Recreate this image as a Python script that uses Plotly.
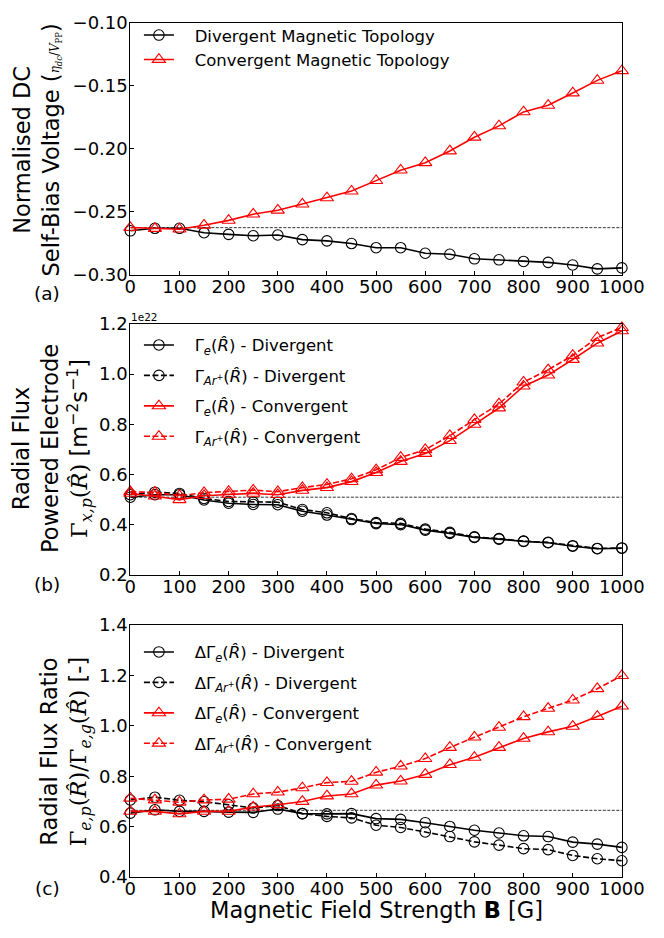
import plotly.graph_objects as go
from plotly.subplots import make_subplots

B = [0, 50, 100, 150, 200, 250, 300, 350, 400, 450, 500, 550, 600, 650, 700, 750, 800, 850, 900, 950, 1000]

# Panel (a): normalised DC self-bias voltage
vdc_div = [-0.265, -0.263, -0.263, -0.2665, -0.2678, -0.2689, -0.2683, -0.2720, -0.2730, -0.2751,
           -0.2784, -0.2784, -0.2828, -0.2836, -0.2872, -0.2880, -0.2893, -0.2900, -0.2921, -0.2952, -0.2944]
vdc_conv = [-0.2624, -0.2632, -0.2637, -0.2606, -0.2567, -0.2518, -0.2487, -0.2438, -0.2389, -0.2335,
            -0.2252, -0.2169, -0.2110, -0.2017, -0.1908, -0.1818, -0.1707, -0.1655, -0.1557, -0.1457, -0.1381]
vdc_ref = -0.2625

# Panel (b): radial flux at powered electrode (units of 1e22)
ge_div = [0.510, 0.520, 0.520, 0.499, 0.486, 0.481, 0.480, 0.454, 0.439, 0.421, 0.405,
          0.401, 0.379, 0.366, 0.350, 0.343, 0.334, 0.329, 0.315, 0.305, 0.307]
gar_div = [0.520, 0.530, 0.525, 0.505, 0.493, 0.490, 0.490, 0.461, 0.448, 0.425, 0.409,
           0.406, 0.383, 0.370, 0.352, 0.345, 0.335, 0.330, 0.317, 0.306, 0.308]
ge_conv = [0.525, 0.514, 0.500, 0.516, 0.521, 0.525, 0.520, 0.537, 0.548, 0.572, 0.608,
           0.652, 0.684, 0.735, 0.800, 0.865, 0.952, 0.996, 1.058, 1.123, 1.172]
gar_conv = [0.532, 0.529, 0.516, 0.528, 0.533, 0.538, 0.532, 0.548, 0.561, 0.583, 0.619,
            0.668, 0.699, 0.755, 0.819, 0.881, 0.968, 1.017, 1.074, 1.145, 1.185]
flux_ref = 0.510

# Panel (c): radial flux ratio
re_div = [0.654, 0.667, 0.661, 0.661, 0.658, 0.657, 0.670, 0.652, 0.651, 0.652, 0.632,
          0.629, 0.616, 0.601, 0.586, 0.575, 0.564, 0.561, 0.539, 0.531, 0.518]
rar_div = [0.706, 0.717, 0.705, 0.699, 0.687, 0.674, 0.684, 0.652, 0.641, 0.635, 0.606,
           0.597, 0.579, 0.561, 0.540, 0.527, 0.513, 0.509, 0.486, 0.473, 0.465]
re_conv = [0.661, 0.661, 0.651, 0.661, 0.661, 0.678, 0.687, 0.700, 0.722, 0.730, 0.765,
           0.781, 0.807, 0.846, 0.875, 0.914, 0.950, 0.976, 0.998, 1.037, 1.078]
rar_conv = [0.713, 0.706, 0.697, 0.706, 0.709, 0.730, 0.737, 0.754, 0.775, 0.780, 0.816,
            0.840, 0.870, 0.914, 0.955, 0.994, 1.036, 1.069, 1.102, 1.147, 1.199]
ratio_ref = 0.665

x_ticks = [0, 100, 200, 300, 400, 500, 600, 700, 800, 900, 1000]

W, H = 664, 938
FONT = "DejaVu Sans"
SERIF = "DejaVu Serif"
BLACK = "#000000"
RED = "#ff0000"
SP = "\u00a0\u00a0\u00a0"

fig = make_subplots(rows=3, cols=1)

def add(row, y, name, color, symbol, dash, legend):
    fig.add_trace(go.Scatter(
        x=B, y=y, name=SP + name, mode="lines+markers", legend=legend, legendgroup=name,
        line=dict(color=color, width=1.6, dash=dash),
        marker=dict(symbol=symbol, size=10.5 if symbol.startswith("circle") else 11.5,
                    color=color, line=dict(color=color, width=1.1)),
        cliponaxis=False), row=row, col=1)

def ref(row, val):
    fig.add_trace(go.Scatter(
        x=[B[0], B[-1]], y=[val, val], mode="lines", showlegend=False,
        line=dict(color=BLACK, width=0.8, dash="3px,1.5px"), hoverinfo="skip"), row=row, col=1)

DASH = "6px,2.5px"
ref(1, vdc_ref)
add(1, vdc_div, "Divergent Magnetic Topology", BLACK, "circle-open", "solid", "legend")
add(1, vdc_conv, "Convergent Magnetic Topology", RED, "triangle-up-open", "solid", "legend")

ref(2, flux_ref)
add(2, ge_div, "Γ<sub><i>e</i></sub>(<i>R̂</i>) - Divergent", BLACK, "circle-open", "solid", "legend2")
add(2, gar_div, "Γ<sub><i>Ar</i><sup>+</sup></sub>(<i>R̂</i>) - Divergent", BLACK, "circle-open", DASH, "legend2")
add(2, ge_conv, "Γ<sub><i>e</i></sub>(<i>R̂</i>) - Convergent", RED, "triangle-up-open", "solid", "legend2")
add(2, gar_conv, "Γ<sub><i>Ar</i><sup>+</sup></sub>(<i>R̂</i>) - Convergent", RED, "triangle-up-open", DASH, "legend2")

ref(3, ratio_ref)
add(3, re_div, "ΔΓ<sub><i>e</i></sub>(<i>R̂</i>) - Divergent", BLACK, "circle-open", "solid", "legend3")
add(3, rar_div, "ΔΓ<sub><i>Ar</i><sup>+</sup></sub>(<i>R̂</i>) - Divergent", BLACK, "circle-open", DASH, "legend3")
add(3, re_conv, "ΔΓ<sub><i>e</i></sub>(<i>R̂</i>) - Convergent", RED, "triangle-up-open", "solid", "legend3")
add(3, rar_conv, "ΔΓ<sub><i>Ar</i><sup>+</sup></sub>(<i>R̂</i>) - Convergent", RED, "triangle-up-open", DASH, "legend3")

xd = [130 / W, 644 / W]
doms = [(12, 270), (320, 577), (628, 886)]
yranges = [[-0.30, -0.10], [0.2, 1.2], [0.4, 1.4]]
ydticks = [0.05, 0.2, 0.2]
for i, ((t, b), yr, dt) in enumerate(zip(doms, yranges, ydticks), start=1):
    ax = dict(showline=True, linecolor=BLACK, linewidth=1, mirror=True, showgrid=False,
              zeroline=False, ticks="inside", ticklen=4, tickcolor=BLACK,
              ticklabeloverflow="allow",
              tickfont=dict(family=FONT, size=18, color=BLACK))
    fig.update_xaxes(domain=xd, range=[0, 1000], tickvals=x_ticks, ticklabelstandoff=-5,
                     row=i, col=1, **ax)
    fig.update_yaxes(domain=[1 - b / H, 1 - t / H], range=yr, dtick=dt, ticklabelstandoff=-2,
                     tickformat=".2f" if i == 1 else ".1f", row=i, col=1, **ax)

leg = dict(bgcolor="rgba(0,0,0,0)", borderwidth=0, xanchor="left", yanchor="top",
           font=dict(family=FONT, size=16.5, color=BLACK), itemwidth=30)
fig.update_layout(
    width=W, height=H, margin=dict(l=0, r=0, t=0, b=0),
    paper_bgcolor="white", plot_bgcolor="white",
    font=dict(family=FONT, color=BLACK),
    legend=dict(x=139 / W, y=1 - 7 / H, tracegroupgap=0, **leg),
    legend2=dict(x=139 / W, y=1 - 324 / H, tracegroupgap=6, **leg),
    legend3=dict(x=139 / W, y=1 - 638 / H, tracegroupgap=6, **leg),
)

TF = 22.5
frac = ("<span style='font-family:" + SERIF + ";font-size:12px'><i>η<sub>dc</sub></i>/"
        "<i>V</i><sub>PP</sub></span>")
m1 = ("<span style='font-family:" + SERIF + "'>Γ<sub><i>x,p</i></sub>(<i>R̂</i>)</span>"
      " [m<sup>−2</sup>s<sup>−1</sup>]")
m2 = ("<span style='font-family:" + SERIF + "'>Γ<sub><i>e,p</i></sub>(<i>R̂</i>)/"
      "Γ<sub><i>e,g</i></sub>(<i>R̂</i>)</span> [-]")
ann = [
    ("Normalised DC<br>Self-Bias Voltage (" + frac + ")", 32, 142),
    ("Radial Flux<br>Powered Electrode<br>" + m1, 48, 447),
    ("Radial Flux Ratio<br>" + m2, 62, 757),
]
for text, cx, cy in ann:
    fig.add_annotation(text=text, x=cx / W, y=1 - cy / H, xref="paper", yref="paper",
                       textangle=-90, showarrow=False, xanchor="center", yanchor="middle",
                       font=dict(family=FONT, size=TF, color=BLACK))

for lab, cy in [("(a)", 289), ("(b)", 587), ("(c)", 898)]:
    fig.add_annotation(text=lab, x=43 / W, y=1 - cy / H, xref="paper", yref="paper",
                       showarrow=False, xanchor="center", yanchor="middle",
                       font=dict(family=FONT, size=18.5, color=BLACK))

fig.add_annotation(text="1e22", x=129 / W, y=1 - 313 / H, xref="paper", yref="paper",
                   showarrow=False, xanchor="left", yanchor="middle",
                   font=dict(family=FONT, size=10.5, color=BLACK))
fig.add_annotation(text="Magnetic Field Strength <b>B</b> [G]", x=387 / W, y=1 - 920 / H,
                   xref="paper", yref="paper", showarrow=False, xanchor="center", yanchor="middle",
                   font=dict(family=FONT, size=TF, color=BLACK))

fig.write_html("out.html")
